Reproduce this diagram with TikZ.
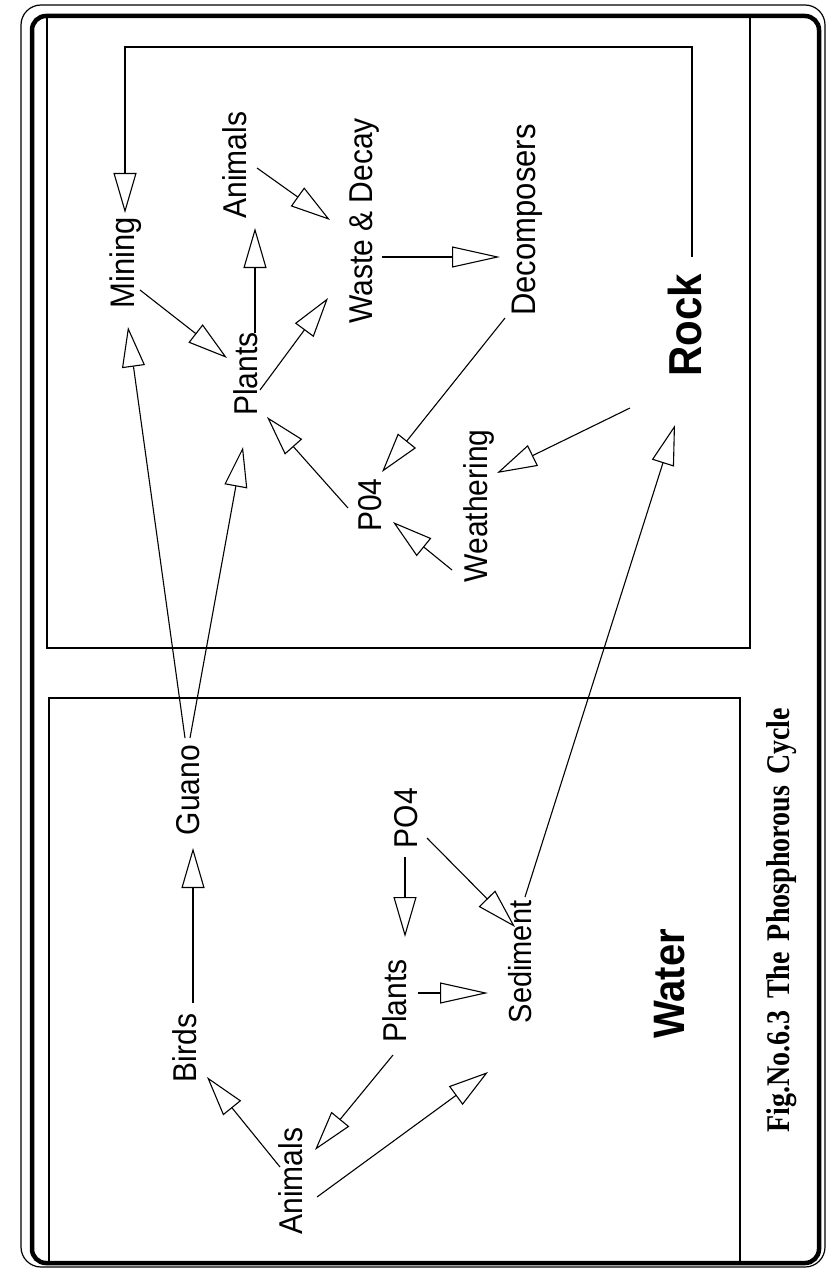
\documentclass[tikz,border=0pt]{standalone}
\usepackage{fontspec}
\setmainfont{Liberation Sans}
\newfontfamily\capfont{Liberation Serif}
\usepackage{graphicx}
\usetikzlibrary{arrows.meta,calc}
\newcommand\rtxt[2]{\rotatebox{90}{\scalebox{1}[1.1]{\fontsize{#1}{#1}\selectfont #2}}}
\newcommand\rcap[2]{\rotatebox{90}{\scalebox{1}[1.18]{\fontsize{#1}{#1}\selectfont #2}}}
\begin{document}
\begin{tikzpicture}[x=1pt,y=-1pt,
  lbl/.style={inner sep=0pt,outer sep=0pt},
  thin/.style={line width=1.2pt},
  arr/.style={line width=1.1pt,-{Triangle[open,length=40pt,width=23pt,line width=1.1pt]}},
  arrlong/.style={line width=1.1pt,-{Triangle[open,length=48pt,width=21pt,line width=1.1pt]}}]
\fill[white] (0,0) rectangle (829,1268);
\useasboundingbox (0,0) rectangle (829,1268);
% frame
\draw[thin,rounded corners=20pt] (21,5) rectangle (825,1267);
\draw[line width=4.5pt,rounded corners=14pt] (32,16) rectangle (819,1263);
\draw[thin] (47,16) rectangle (750,648);
\draw[thin] (49,698) rectangle (740,1263);
% land nodes
\node[lbl] (mining) at (126,263) {\rtxt{31}{Mining}};
\node[lbl] (animL) at (235,165) {\rtxt{30}{Animals}};
\node[lbl] (plantsL) at (246,374) {\rtxt{30}{Plants}};
\node[lbl] (waste) at (365,221) {\rtxt{30}{Waste \& Decay}};
\node[lbl] (decomp) at (527,220) {\rtxt{31}{Decomposers}};
\node[lbl] (p04L) at (370,505) {\rtxt{30}{P04}};
\node[lbl] (weath) at (479,506) {\rtxt{30}{Weathering}};
\node[lbl] (rock) at (685,325) {\rtxt{42}{\bfseries Rock}};
% water nodes
\node[lbl] (guano) at (188,790) {\rtxt{30}{Guano}};
\node[lbl] (po4W) at (406,818) {\rtxt{30}{PO4}};
\node[lbl] (birds) at (185,1048) {\rtxt{30}{Birds}};
\node[lbl] (plantsW) at (395,1001) {\rtxt{30}{Plants}};
\node[lbl] (animW) at (291,1181) {\rtxt{30}{Animals}};
\node[lbl] (sed) at (520,962) {\rtxt{29}{Sediment}};
\node[lbl] (water) at (670,984) {\rtxt{40}{\bfseries Water}};
\node[lbl] (caption) at (782,920) {\rcap{28}{\capfont\bfseries Fig.No.6.3\hspace{0.4em}The\hspace{0.4em}Phosphorous\hspace{0.4em}Cycle}};
\coordinate (loopc) at (125,47);
% land connectors
\draw[arr] ($(rock)+(7,-68)$) |- (loopc) -- ($(mining)+(-1,-50)$);
\draw[arr] ($(mining)+(14,27)$) -- ($(plantsL)+(-19,-16)$);
\draw[arr] ($(plantsL)+(9,-41)$) -- ($(animL)+(20,63)$);
\draw[arr] ($(plantsL)+(14,16)$) -- ($(waste)+(-37,77)$);
\draw[arr] ($(animL)+(22,3)$) -- ($(waste)+(-35,-1)$);
\draw[arrlong] ($(waste)+(17,36)$) -- ($(decomp)+(-27,37)$);
\draw[arr] ($(decomp)+(-22,98)$) -- ($(p04L)+(12,-33)$);
\draw[arr] ($(p04L)+(-22,3)$) -- ($(plantsL)+(21,43)$);
\draw[arr] ($(weath)+(-27,64)$) -- ($(p04L)+(23,17)$);
\draw[arr] ($(rock)+(-55,83)$) -- ($(weath)+(18,-33)$);
\draw[arr] ($(sed)+(5,-65)$) -- ($(rock)+(-10,100)$);
% guano
\draw[arr] ($(guano)+(-3,-52)$) -- ($(mining)+(2,64)$);
\draw[arr] ($(guano)+(2,-52)$) -- ($(plantsL)+(-3,73)$);
% water connectors
\draw[arr] ($(birds)+(8,-45)$) -- ($(guano)+(5,58)$);
\draw[arr] ($(po4W)+(-1,39)$) -- ($(plantsW)+(10,-64)$);
\draw[arrlong] ($(plantsW)+(23,-8)$) -- ($(sed)+(-32,31)$);
\draw[arr] ($(po4W)+(21,20)$) -- ($(sed)+(-5,-35)$);
\draw[arr] ($(animW)+(-11,-14)$) -- ($(birds)+(22,29)$);
\draw[arr] ($(plantsW)+(-2,54)$) -- ($(animW)+(24,-31)$);
\draw[arr] ($(animW)+(26,16)$) -- ($(sed)+(-32,110)$);
\end{tikzpicture}
\end{document}
